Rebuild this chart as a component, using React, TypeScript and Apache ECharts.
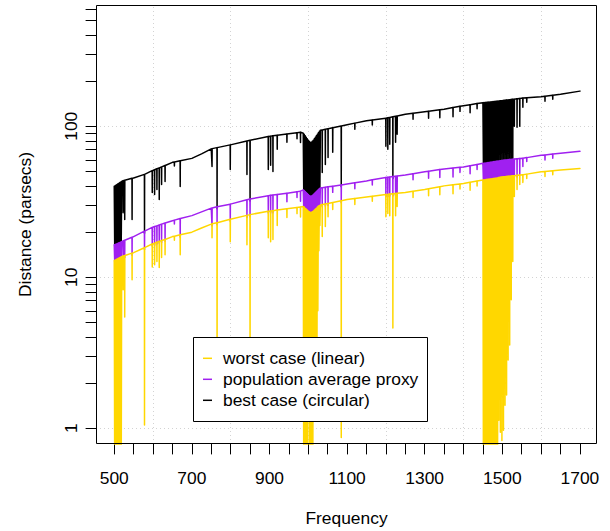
import React, { useEffect, useRef } from 'react';
import * as echarts from 'echarts';

// Frequency (MHz) of every plotted sample, shared by the three series
const freqMHz: number[] = [
  500, 501.2, 502.4, 503.6, 504.8, 506, 507.2, 508.4, 509.6, 510.8, 512, 513.2, 514.4, 515.6, 516.8, 518, 519.2,
  522.7, 523, 523.3, 526.7, 527, 527.3, 545.7, 546, 546.3, 550,
  577.7, 578, 578.3, 597.7, 598, 598.3, 603.7, 604, 604.3, 609.7, 610, 610.3, 615.7, 616, 616.3, 621.7, 622, 622.3, 630.7, 631, 631.3, 650,
  654.7, 655, 655.3, 669.7, 670, 670.3, 700, 725, 750, 751.7, 752, 752.3, 764.7, 765, 765.3, 798.7, 799, 799.3,
  841.7, 842, 842.3, 849.7, 850, 850.3, 896.7, 897, 897.3, 902.7, 903, 903.3, 908.7, 909, 909.3, 919.7, 920, 920.3, 944.7, 945, 945.3, 950, 970.7, 971, 971.3, 979.7, 980, 980.3,
  987, 988.3, 989.6, 990.9, 992.2, 993.5, 994.8, 996.1, 997.4, 998.7, 1000, 1001.3, 1002.6, 1003.9, 1005.2, 1006.5, 1007.8, 1009.1, 1010.4, 1011.7, 1013, 1014.3, 1015.6, 1016.9, 1018.2, 1019.5, 1020.8, 1022.1, 1023.4, 1024.7, 1026, 1027.3, 1028.6, 1029.9, 1031.2,
  1035.7, 1036, 1036.3, 1043.7, 1044, 1044.3, 1050.7, 1051, 1051.3, 1062.7, 1063, 1063.3, 1084.7, 1085, 1085.3, 1100,
  1119.7, 1120, 1120.3, 1150, 1164.7, 1165, 1165.3, 1199.7, 1200, 1200.3, 1204.7, 1205, 1205.3, 1209.7, 1210, 1210.3, 1217.7, 1218, 1218.3, 1224.7, 1225, 1225.3, 1228.7, 1229, 1229.3, 1250,
  1269.7, 1270, 1270.3, 1300, 1309.7, 1310, 1310.3, 1338.7, 1339, 1339.3, 1350, 1372.7, 1373, 1373.3, 1390.7, 1391, 1391.3, 1400, 1416.7, 1417, 1417.3, 1434.7, 1435, 1435.3,
  1450, 1451.3, 1452.6, 1453.9, 1455.2, 1456.5, 1457.8, 1459.1, 1460.4, 1461.7, 1463, 1464.3, 1465.6, 1466.9, 1468.2, 1469.5, 1470.8, 1472.1, 1473.4, 1474.7, 1476, 1477.3, 1478.6, 1479.9, 1481.2, 1482.5, 1483.8, 1485.1, 1486.4, 1487.7, 1489,
  1490.7, 1491, 1491.3, 1494.7, 1495, 1495.3, 1498.7, 1499, 1499.3, 1502.7, 1503, 1503.3, 1506.7, 1507, 1507.3, 1510.7, 1511, 1511.3, 1514.7, 1515, 1515.3, 1518.7, 1519, 1519.3, 1522.7, 1523, 1523.3, 1526.7, 1527, 1527.3, 1530.7, 1531, 1531.3, 1537.7, 1538, 1538.3, 1544.7, 1545, 1545.3, 1552.7, 1553, 1553.3, 1562.7, 1563, 1563.3,
  1600, 1609.7, 1610, 1610.3, 1629.7, 1630, 1630.3, 1650, 1700,
];

// best case (circular), parsecs
const bestCase: number[] = [
  40.0, 16.0, 40.4, 16.0, 40.8, 16.1, 41.2, 16.2, 41.6, 16.3, 42.0, 16.4, 42.4, 16.5, 42.8, 16.6, 43.1,
  43.6, 26.8, 43.6, 43.9, 24.1, 43.9, 45.2, 24.1, 45.2, 45.5,
  48.0, 19.6, 48.0, 50.8, 36.4, 50.8, 51.5, 35.3, 51.5, 52.3, 38.1, 52.3, 53.0, 32.7, 53.0, 53.8, 41.2, 53.8, 55.0, 43.1, 55.0, 57.7,
  58.0, 54.6, 58.0, 59.1, 39.9, 59.1, 61.3, 65.7, 70.9, 71.1, 54.2, 71.1, 72.2, 28.4, 72.2, 75.3, 51.8, 75.3,
  79.8, 48.0, 79.8, 80.7, 32.0, 80.7, 85.5, 51.8, 85.5, 86.0, 55.1, 86.0, 86.4, 50.2, 86.4, 87.1, 70.4, 87.1, 88.8, 78.3, 88.8, 89.2, 90.6, 82.6, 90.6, 91.2, 78.2, 91.2,
  89.8, 37.0, 88.5, 36.7, 86.5, 36.1, 84.5, 35.5, 82.6, 35.0, 80.7, 34.4, 79.5, 33.9, 78.3, 33.6, 78.3, 33.6, 79.5, 33.9, 80.7, 34.4, 82.6, 35.0, 84.5, 35.5, 86.5, 36.1, 88.5, 36.7, 90.5, 37.2, 92.7, 37.8, 94.1,
  94.6, 49.5, 94.6, 95.5, 55.9, 95.5, 96.3, 62.2, 96.3, 97.8, 67.2, 97.8, 100.5, 39.7, 100.5, 102.3,
  104.9, 95.7, 104.9, 108.8, 110.0, 101.9, 110.0, 113.0, 73.6, 113.0, 113.7, 70.4, 113.7, 114.4, 75.9, 114.4, 115.5, 45.1, 115.5, 116.5, 78.3, 116.5, 117.1, 88.5, 117.1, 120.2,
  122.0, 111.3, 122.0, 124.8, 125.8, 113.0, 125.8, 128.6, 113.8, 128.6, 129.7, 133.0, 115.8, 133.0, 135.5, 125.5, 135.5, 136.8, 139.0, 123.0, 139.0, 141.3, 130.8, 141.3,
  143.3, 55.3, 143.5, 55.4, 143.8, 55.5, 144.0, 55.7, 144.3, 55.9, 144.5, 56.0, 144.8, 56.1, 145.0, 56.3, 145.3, 56.4, 145.5, 56.6, 145.8, 56.7, 146.0, 56.9, 146.3, 57.0, 146.5, 57.1, 146.8, 57.3, 147.0,
  146.9, 57.2, 146.9, 147.3, 57.4, 147.3, 147.6, 57.6, 147.6, 148.1, 57.8, 148.1, 148.5, 57.9, 148.5, 149.0, 58.1, 149.0, 149.4, 58.2, 149.4, 149.9, 58.3, 149.9, 150.3, 58.5, 150.3, 150.8, 58.6, 150.8, 151.2, 100.0, 151.2, 152.1, 98.5, 152.1, 152.9, 100.0, 152.9, 153.7, 133.7, 153.7, 154.4, 144.4, 154.4,
  157.0, 158.2, 146.5, 158.2, 160.7, 151.2, 160.7, 163.2, 170.9,
];

// population average proxy, parsecs
const populationAverage: number[] = [
  16.4, 12.6, 16.5, 12.7, 16.6, 12.8, 16.7, 12.9, 16.8, 13.0, 16.9, 13.1, 17.0, 13.2, 17.1, 13.3, 17.2,
  17.4, 13.4, 17.4, 17.6, 13.5, 17.6, 18.4, 14.0, 18.4, 18.6,
  20.2, 15.2, 20.2, 21.4, 16.1, 21.4, 21.7, 16.3, 21.7, 21.9, 16.6, 21.9, 22.2, 16.8, 22.2, 22.5, 17.0, 22.5, 22.9, 17.3, 22.9, 23.7,
  23.9, 22.5, 23.9, 24.5, 18.5, 24.5, 25.6, 27.1, 28.7, 28.8, 21.9, 28.8, 29.3, 22.3, 29.3, 30.5, 23.5, 30.5,
  32.6, 24.9, 32.6, 33.0, 25.2, 33.0, 34.7, 26.6, 34.7, 34.9, 26.7, 34.9, 35.0, 26.8, 35.0, 35.3, 27.9, 35.3, 36.0, 31.6, 36.0, 36.2, 36.9, 33.7, 36.9, 37.2, 31.9, 37.2,
  37.9, 29.0, 37.6, 28.8, 37.0, 28.3, 36.4, 27.9, 35.9, 27.5, 35.3, 27.1, 34.8, 26.8, 34.5, 26.6, 34.5, 26.6, 34.8, 26.8, 35.3, 27.1, 35.9, 27.5, 36.4, 27.9, 37.0, 28.3, 37.6, 28.8, 38.1, 29.2, 38.7, 29.5, 39.0,
  39.2, 29.4, 39.2, 39.4, 29.6, 39.4, 39.7, 29.9, 39.7, 40.1, 36.5, 40.1, 40.9, 31.1, 40.9, 41.5,
  42.3, 38.6, 42.3, 43.4, 44.2, 40.9, 44.2, 45.8, 34.2, 45.8, 46.0, 34.3, 46.0, 46.2, 34.5, 46.2, 46.5, 34.6, 46.5, 46.7, 34.8, 46.7, 46.9, 34.9, 46.9, 47.6,
  48.5, 44.2, 48.5, 49.9, 50.3, 45.2, 50.3, 51.7, 45.8, 51.7, 52.2, 52.9, 46.1, 52.9, 53.5, 49.5, 53.5, 53.8, 54.8, 48.5, 54.8, 55.9, 51.8, 55.9,
  56.8, 43.1, 56.9, 43.2, 57.1, 43.3, 57.2, 43.4, 57.4, 43.5, 57.5, 43.6, 57.6, 43.7, 57.8, 43.8, 57.9, 43.9, 58.1, 44.0, 58.2, 44.1, 58.4, 44.2, 58.5, 44.3, 58.6, 44.4, 58.8, 44.5, 58.9,
  59.0, 44.4, 59.0, 59.2, 44.6, 59.2, 59.4, 44.7, 59.4, 59.6, 44.9, 59.6, 59.7, 45.0, 59.7, 59.9, 45.1, 59.9, 60.0, 45.2, 60.0, 60.2, 45.3, 60.2, 60.3, 45.4, 60.3, 60.5, 45.5, 60.5, 60.6, 46.0, 60.6, 60.9, 46.2, 60.9, 61.1, 48.0, 61.1, 61.5, 54.2, 61.5, 62.0, 58.5, 62.0,
  64.2, 64.6, 59.8, 64.6, 65.4, 61.5, 65.4, 66.2, 68.2,
];

// worst case (linear), parsecs
const worstCase: number[] = [
  12.9, 0.5, 13.0, 0.5, 13.1, 0.5, 13.2, 0.5, 13.3, 0.5, 13.4, 0.5, 13.5, 0.5, 13.6, 0.5, 13.7,
  13.85, 8.26, 13.85, 13.95, 5.46, 13.95, 14.45, 9.63, 14.45, 14.55,
  15.7, 1.05, 15.7, 16.6, 11.7, 16.6, 16.8, 12.1, 16.8, 17.1, 12.7, 17.1, 17.3, 11.6, 17.3, 17.5, 13.5, 17.5, 17.8, 14.1, 17.8, 18.6,
  18.7, 17.6, 18.7, 19.1, 14.1, 19.1, 19.9, 21.2, 22.5, 22.6, 18.3, 22.6, 23.0, 1.79, 23.0, 24.2, 17.2, 24.2,
  25.7, 16.4, 25.7, 26.0, 1.53, 26.0, 27.4, 18.3, 27.4, 27.5, 17.2, 27.5, 27.6, 17.8, 27.6, 27.9, 22.0, 27.9, 28.4, 24.9, 28.4, 28.5, 29.0, 26.4, 29.0, 29.2, 25.1, 29.2,
  29.4, 0.5, 29.2, 0.5, 28.7, 0.5, 28.3, 0.5, 27.9, 0.5, 27.5, 1.2, 27.2, 0.5, 27.0, 0.5, 27.0, 0.5, 27.2, 0.5, 27.5, 1.5, 27.9, 2.0, 28.3, 3.0, 28.7, 1.5, 29.2, 6.0, 29.6, 15.0, 29.9, 22.0, 30.1,
  30.3, 18.6, 30.3, 30.6, 21.7, 30.6, 30.8, 25.2, 30.8, 31.3, 28.1, 31.3, 32.1, 0.87, 32.1, 32.7,
  33.2, 30.3, 33.2, 34.0, 34.4, 31.9, 34.4, 35.3, 25.2, 35.3, 35.4, 26.4, 35.4, 35.6, 25.6, 35.6, 35.7, 4.62, 35.7, 35.9, 25.6, 35.9, 36.0, 29.4, 36.0, 36.4,
  37.1, 33.8, 37.1, 38.1, 38.6, 34.7, 38.6, 39.8, 35.2, 39.8, 40.3, 41.0, 35.7, 41.0, 41.5, 38.4, 41.5, 41.8, 42.6, 37.7, 42.6, 43.4, 40.2, 43.4,
  44.1, 0.5, 44.2, 0.5, 44.3, 0.5, 44.4, 0.5, 44.5, 0.5, 44.6, 0.5, 44.7, 0.5, 44.8, 0.5, 44.9, 0.5, 45.0, 0.5, 45.1, 0.5, 45.2, 0.5, 45.3, 0.5, 45.4, 0.5, 45.5, 0.5, 45.6,
  45.8, 1.13, 45.8, 46.0, 0.94, 46.0, 46.1, 0.83, 46.1, 46.3, 0.97, 46.3, 46.4, 1.42, 46.4, 46.5, 1.66, 46.5, 46.6, 2.83, 46.6, 46.7, 3.56, 46.7, 46.9, 7.09, 46.9, 47.0, 12.7, 47.0, 47.1, 34.3, 47.1, 47.3, 38.1, 47.3, 47.5, 41.2, 47.5, 47.8, 42.5, 47.8, 48.2, 45.1, 48.2,
  49.9, 50.2, 46.5, 50.2, 50.8, 47.8, 50.8, 51.4, 52.6,
];

const xTickValues = [500, 550, 600, 650, 700, 750, 800, 850, 900, 950, 1000, 1050, 1100, 1150, 1200, 1250, 1300, 1350, 1400, 1450, 1500, 1550, 1600, 1650, 1700];
const xLabelValues = [500, 700, 900, 1100, 1300, 1500, 1700];
const yTickValues = [1, 2, 3, 4, 5, 6, 7, 8, 9, 10, 20, 30, 40, 50, 60, 70, 80, 90, 100, 200, 300, 400, 500, 600];
const yLabelValues = [1, 10, 100];
const xGridValues = [600, 800, 1000, 1200, 1400, 1600];
const yGridValues = [1, 10, 100];
const legendLabels = ['worst case (linear)', 'population average proxy', 'best case (circular)'];
const legendColors = ['#FFD700', '#A020F0', '#000000'];

const FONT = '"Liberation Sans", Arial, Helvetica, sans-serif';
const FS = 17.4;

function toPairs(values: number[]) {
  return freqMHz.map((f, i) => [f, Math.log10(values[i])]);
}

export default function App() {
  const ref = useRef<HTMLDivElement>(null);

  useEffect(() => {
    if (!ref.current) return;
    const chart = echarts.init(ref.current, null, { renderer: 'svg' });

    const lineSeries = (name: string, values: number[], color: string, z: number) => ({
      type: 'line',
      name,
      data: toPairs(values),
      symbol: 'none',
      showSymbol: false,
      silent: true,
      clip: true,
      z,
      itemStyle: { color },
      lineStyle: { color, width: 1.5, join: 'round', cap: 'round' },
    });

    const legendTop = 358.3;
    const legendStep = 21;

    const option: any = {
      animation: false,
      grid: { left: 96, top: 5, width: 501, height: 439, containLabel: false },
      xAxis: {
        type: 'value',
        min: 453,
        max: 1744,
        axisLine: { show: false, onZero: false },
        splitLine: { show: false },
        axisTick: {
          show: true,
          inside: false,
          customValues: xTickValues,
          length: 10.4,
          lineStyle: { color: '#000', width: 1 },
        },
        axisLabel: {
          customValues: xLabelValues,
          formatter: (v: number) => String(v),
          margin: 25,
          fontSize: FS,
          fontFamily: FONT,
          color: '#000',
        },
        name: 'Frequency',
        nameLocation: 'middle',
        nameGap: 65,
        nameTextStyle: { fontSize: FS, fontFamily: FONT, color: '#000' },
      },
      yAxis: {
        type: 'value',
        min: -0.104,
        max: 2.803,
        axisLine: { show: false, onZero: false },
        splitLine: { show: false },
        axisTick: {
          show: true,
          inside: false,
          customValues: yTickValues.map((v) => Math.log10(v)),
          length: 10.4,
          lineStyle: { color: '#000', width: 1 },
        },
        axisLabel: {
          customValues: yLabelValues.map((v) => Math.log10(v)),
          formatter: (v: number) => String(Math.round(Math.pow(10, v))),
          rotate: 90,
          margin: 17,
          fontSize: FS,
          fontFamily: FONT,
          color: '#000',
        },
        name: 'Distance (parsecs)',
        nameLocation: 'middle',
        nameRotate: 90,
        nameGap: 63,
        nameTextStyle: { fontSize: FS, fontFamily: FONT, color: '#000' },
      },
      series: [
        {
          type: 'line',
          name: 'grid',
          data: [],
          silent: true,
          z: 1,
          markLine: {
            silent: true,
            z: 1,
            symbol: 'none',
            label: { show: false },
            emphasis: { disabled: true },
            lineStyle: { color: '#d3d3d3', type: [1, 3], width: 1 },
            data: [
              ...xGridValues.map((v) => ({ xAxis: v })),
              ...yGridValues.map((v) => ({ yAxis: Math.log10(v) })),
            ],
          },
        },
        lineSeries(legendLabels[2], bestCase, legendColors[2], 2),
        lineSeries(legendLabels[1], populationAverage, legendColors[1], 3),
        lineSeries(legendLabels[0], worstCase, legendColors[0], 4),
      ],
      graphic: [
        {
          type: 'rect',
          z: 100,
          shape: { x: 96.5, y: 5.5, width: 500, height: 438 },
          style: { fill: 'none', stroke: '#000', lineWidth: 1 },
          silent: true,
        },
        {
          type: 'rect',
          z: 100,
          shape: { x: 193.5, y: 337.5, width: 234, height: 84 },
          style: { fill: '#fff', stroke: '#000', lineWidth: 1 },
          silent: true,
        },
        ...legendLabels.map((label, i) => ({
          type: 'line',
          z: 101,
          silent: true,
          shape: { x1: 203, y1: legendTop + legendStep * i, x2: 212, y2: legendTop + legendStep * i },
          style: { stroke: legendColors[i], lineWidth: 1.5 },
        })),
        ...legendLabels.map((label, i) => ({
          type: 'text',
          z: 101,
          silent: true,
          x: 223,
          y: legendTop + legendStep * i,
          style: {
            text: label,
            fill: '#000',
            fontSize: FS,
            fontFamily: FONT,
            textAlign: 'left',
            align: 'left',
            textVerticalAlign: 'middle',
            verticalAlign: 'middle',
          },
        })),
      ],
    };

    chart.setOption(option);
    return () => chart.dispose();
  }, []);

  return <div ref={ref} style={{ position: 'absolute', left: 0, top: 0, width: 610, height: 531 }} />;
}
